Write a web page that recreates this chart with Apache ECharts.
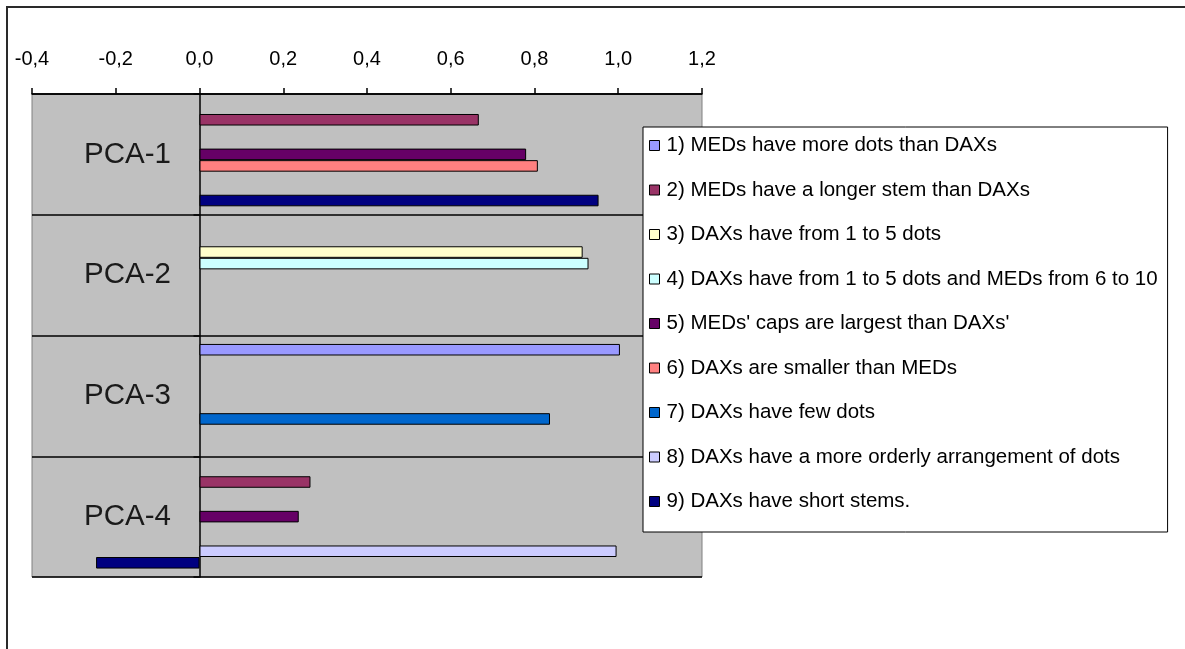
<!DOCTYPE html>
<html>
<head>
<meta charset="utf-8">
<style>
  html, body { margin: 0; padding: 0; background: #ffffff; }
  #chart { width: 1185px; height: 649px; }
</style>
<script src="https://cdn.jsdelivr.net/npm/echarts@6/dist/echarts.min.js"></script>
</head>
<body>
<div id="chart"></div>
<script>
// Principal components (categories, top to bottom)
const categories = ['PCA-1', 'PCA-2', 'PCA-3', 'PCA-4'];

// Loadings of each character on the components (null = not loaded)
const s1 = [null, null, 1.004, null];
const s2 = [0.667, null, null, 0.265];
const s3 = [null, 0.915, null, null];
const s4 = [null, 0.929, null, null];
const s5 = [0.780, null, null, 0.237];
const s6 = [0.808, null, null, null];
const s7 = [null, null, 0.837, null];
const s8 = [null, null, null, 0.996];
const s9 = [0.953, null, null, -0.247];

const seriesNames = [
  '1) MEDs have more dots than DAXs',
  '2) MEDs have a longer stem than DAXs',
  '3) DAXs have from 1 to 5 dots',
  '4) DAXs have from 1 to 5 dots and MEDs from 6 to 10',
  "5) MEDs' caps are largest than DAXs'",
  '6) DAXs are smaller than MEDs',
  '7) DAXs have few dots',
  '8) DAXs have a more orderly arrangement of dots',
  '9) DAXs have short stems.'
];
const seriesValues = [s1, s2, s3, s4, s5, s6, s7, s8, s9];
const seriesColors = ['#9999FF', '#993366', '#FFFFCC', '#CCFFFF', '#660066',
                      '#FF8080', '#0066CC', '#CCCCFF', '#000080'];

// Value axis
const axisMin = -0.4, axisMax = 1.2, axisStep = 0.2;

const FONT = '"Liberation Sans", Arial, sans-serif';

const chart = echarts.init(document.getElementById('chart'), null, { renderer: 'canvas' });

chart.setOption({
  animation: false,
  backgroundColor: '#ffffff',
  graphic: [{
    type: 'rect',
    shape: { x: 7, y: 7, width: 1300, height: 800 },
    style: { fill: 'none', stroke: '#2a2a2a', lineWidth: 2 },
    silent: true,
    z: 0
  }],
  grid: {
    left: 32, right: 483, top: 94, bottom: 72,
    containLabel: false,
    outerBoundsMode: 'none',
    show: true,
    backgroundColor: '#C0C0C0',
    borderColor: '#808080',
    borderWidth: 1
  },
  legend: {
    orient: 'vertical',
    left: 643, top: 127,
    padding: [8, 10, 20, 6],
    itemGap: 23.5,
    itemWidth: 10, itemHeight: 10,
    icon: 'rect',
    backgroundColor: '#ffffff',
    borderColor: '#000000',
    borderWidth: 1,
    borderRadius: 0,
    itemStyle: { borderColor: '#000000', borderWidth: 1 },
    textStyle: {
      fontFamily: FONT, fontSize: 20.5, lineHeight: 20, color: '#000000',
      padding: [0, 0, 0, 2]
    },
    data: seriesNames
  },
  xAxis: {
    type: 'value',
    position: 'top',
    min: axisMin, max: axisMax, interval: axisStep,
    axisLine: { show: true, onZero: false, lineStyle: { color: '#000000', width: 1.5 } },
    axisTick: { show: true, length: 6, lineStyle: { color: '#000000', width: 1.5 } },
    splitLine: { show: false },
    axisLabel: {
      margin: 25,
      fontFamily: FONT, fontSize: 20, color: '#000000',
      formatter: v => v.toFixed(1).replace('.', ',')
    }
  },
  yAxis: [{
    // category axis crossing the value axis at zero
    type: 'category',
    data: categories,
    inverse: true,
    axisLine: { show: true, onZero: true, lineStyle: { color: '#000000', width: 1.5 } },
    axisTick: { show: true, length: 6, lineStyle: { color: '#000000', width: 1.5 } },
    splitLine: { show: true, lineStyle: { color: '#000000', width: 1.5 } },
    axisLabel: { show: false }
  }, {
    // component names, drawn inside the plot area left of the zero line
    type: 'category',
    data: categories,
    inverse: true,
    position: 'left',
    axisLine: { show: false, onZero: false },
    axisTick: { show: false },
    splitLine: { show: false },
    axisLabel: {
      inside: true,
      align: 'right',
      margin: 139,
      fontFamily: FONT, fontSize: 29.5, color: '#1a1a1a'
    }
  }],
  series: seriesNames.map((name, i) => ({
    name: name,
    type: 'bar',
    data: seriesValues[i],
    barGap: '0%',
    barCategoryGap: '14%',
    itemStyle: { color: seriesColors[i], borderColor: '#000000', borderWidth: 1 },
    z: 3
  }))
});
</script>
</body>
</html>
